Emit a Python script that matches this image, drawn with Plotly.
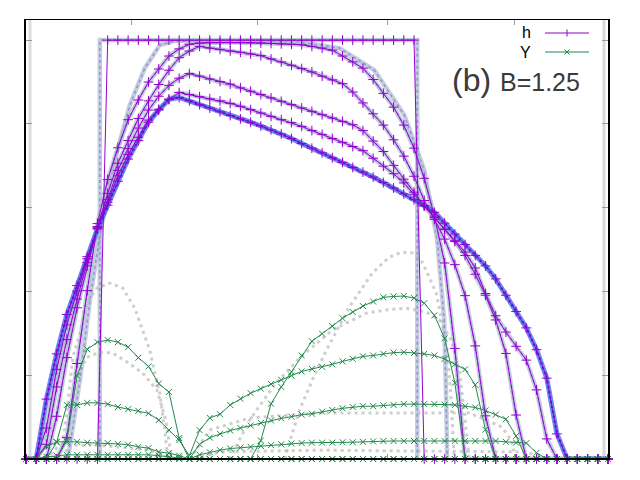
import plotly.graph_objects as go

# grid index (solution sampled on a uniform grid, 58 nodes)
x_grid = list(range(58))

# ---- h profiles (overlay, purple) ----
h_P0 = [0,0,0,0,0,0,0,0] + [1.0]*31 + [0]*19
h_C0 = [0,0,0,0,0.051,0.228,0.402,0.562,0.667,0.743,0.810,0.857,0.900,0.931,0.962,0.979,0.990,
        0.993,0.994,0.994,0.994,0.994,0.994,0.993,0.992,0.991,0.990,0.989,0.985,0.981,0.976,0.962,
        0.948,0.933,0.906,0.873,0.840,0.797,0.742,0.670,0.580,0.468,0.264,
        0,0,0,0,0,0,0,0,0,0,0,0,0,0,0]
h_C1 = [0,0,0,0.102,0.242,0.361,0.461,0.555,0.634,0.706,0.760,0.813,0.855,0.894,0.928,0.958,0.974,
        0.985,0.981,0.978,0.974,0.971,0.967,0.963,0.955,0.948,0.940,0.932,0.924,0.914,0.905,0.896,
        0.876,0.850,0.824,0.797,0.762,0.723,0.675,0.617,0.572,0.525,0.464,0.390,0.270,0.103,
        0,0,0,0,0,0,0,0,0,0,0,0]
h_C2 = [0,0,0.035,0.172,0.285,0.382,0.469,0.552,0.620,0.689,0.741,0.790,0.833,0.866,0.892,0.909,0.920,
        0.914,0.907,0.901,0.895,0.886,0.878,0.870,0.862,0.854,0.846,0.838,0.830,0.822,0.814,0.806,
        0.798,0.784,0.759,0.734,0.701,0.668,0.637,0.605,0.576,0.548,0.519,0.486,0.441,0.391,0.332,
        0.252,0.105,0,0,0,0,0,0,0,0,0]
h_C3 = [0,0,0.074,0.214,0.320,0.401,0.478,0.551,0.613,0.676,0.727,0.768,0.809,0.835,0.858,0.875,0.870,
        0.865,0.860,0.855,0.849,0.842,0.834,0.826,0.818,0.810,0.803,0.794,0.784,0.775,0.765,0.756,
        0.746,0.736,0.718,0.699,0.681,0.659,0.632,0.604,0.577,0.549,0.522,0.494,0.456,0.395,0.342,
        0.303,0.269,0.236,0.165,0.048,0,0,0,0,0,0]
h_C4 = [0,0,0.143,0.251,0.345,0.414,0.483,0.549,0.606,0.663,0.716,0.760,0.804,0.833,0.859,0.863,0.855,
        0.846,0.838,0.829,0.820,0.812,0.804,0.795,0.786,0.776,0.765,0.753,0.742,0.731,0.719,0.708,
        0.696,0.685,0.673,0.660,0.647,0.633,0.619,0.605,0.589,0.563,0.537,0.512,0.486,0.461,0.430,
        0.391,0.352,0.313,0.261,0.193,0.060,0,0,0,0,0]

# ---- Y profiles (overlay, green) ----
Y_P0 = [0]*58
Y_C0 = [0,0,0,0,0.045,0.199,0.262,0.279,0.284,0.279,0.267,0.242,0.221,0.180,0.160,0.050,0,
        0,0,0,0,0,0,0.044,0.132,0.172,0.208,0.247,0.281,0.299,0.317,0.336,0.351,0.365,0.376,
        0.386,0.388,0.389,0.384,0.372,0.343,0.288,0.182,0,0,0,0,0,0,0,0,0,0,0,0,0,0,0]
Y_C1 = [0,0,0,0.040,0.129,0.129,0.134,0.134,0.131,0.124,0.119,0.115,0.109,0.093,0.069,0.045,0.008,
        0.069,0.098,0.107,0.129,0.144,0.157,0.168,0.179,0.189,0.199,0.209,0.215,0.220,0.226,0.233,
        0.239,0.245,0.247,0.251,0.254,0.255,0.253,0.251,0.247,0.239,0.226,0.214,0.177,0.070,
        0,0,0,0,0,0,0,0,0,0,0,0]
Y_C2 = [0,0,0.030,0.041,0.041,0.041,0.039,0.038,0.038,0.036,0.034,0.029,0.026,0.017,0.014,0.008,0,
        0.035,0.051,0.060,0.068,0.074,0.080,0.086,0.092,0.097,0.101,0.106,0.108,0.113,0.117,0.121,
        0.124,0.126,0.126,0.128,0.129,0.131,0.131,0.131,0.131,0.130,0.129,0.126,0.123,0.116,0.106,
        0.095,0.055,0,0,0,0,0,0,0,0,0]
Y_C3 = [0,0,0.005,0.008,0.010,0.010,0.010,0.010,0.010,0.010,0.010,0.010,0.010,0.008,0.005,0.003,0,
        0.010,0.016,0.021,0.025,0.027,0.029,0.031,0.033,0.035,0.037,0.038,0.039,0.039,0.039,0.040,
        0.040,0.041,0.042,0.043,0.043,0.043,0.043,0.043,0.043,0.043,0.043,0.043,0.043,0.043,0.043,
        0.041,0.039,0.038,0.015,0,0,0,0,0,0,0]
Y_C4 = [0]*58

# ---- background (blurred reference figure) curves ----
bg_step_x = [7.23, 7.23, 38.32, 38.32]
bg_step_h = [0, 1, 1, 0]
bg_B1_x = [4.11,5.28,6.26,7.23,8.70,10.17,11.63,13.10,14.57,26.78,30.69,34.12,37.05,39.00,40.27,40.96,41.15,41.25]
bg_B1_h = [0,0.189,0.379,0.535,0.714,0.845,0.933,0.988,0.998,0.995,0.981,0.928,0.821,0.690,0.523,0.332,0.141,0]

bgY_a_x = [3.32,3.91,4.59,5.28,5.96,6.94,8.21,9.48,10.65,11.44,12.12,12.61,13.10,13.59,13.88]
bgY_a_y = [0,0.093,0.243,0.301,0.372,0.408,0.420,0.408,0.360,0.308,0.260,0.205,0.158,0.069,0]
bgY_b_x = [3.81,4.50,5.08,5.96,7.23,8.50,9.87,11.44,12.81,13.69,14.27]
bgY_b_y = [0,0.117,0.200,0.243,0.255,0.253,0.232,0.205,0.165,0.093,0]
bgY_c_x = [25.32,26.78,28.25,29.42,31.67,33.92,35.58,36.85,37.83,38.71,39.49,40.18,40.76,41.25,41.64,41.94]
bgY_c_y = [0,0.117,0.200,0.260,0.363,0.444,0.482,0.494,0.492,0.475,0.434,0.396,0.325,0.260,0.141,0]
bgY_d_x = [19.94,21.90,24.34,26.78,30.01,33.33,35.29,37.24,39.20,40.47,41.64,42.42,42.91,43.40]
bgY_d_y = [0,0.093,0.177,0.241,0.308,0.348,0.356,0.360,0.351,0.332,0.284,0.212,0.117,0]
bgY_e_x = [16.03,17.99,21.90,28.74,41.74,43.40,45.06,46.63,47.51,48.00]
bgY_e_y = [0,0.069,0.098,0.110,0.110,0.110,0.093,0.076,0.045,0]
bgY_f_x = [16.52,18.96,28.74,48.29,50.24,50.73]
bgY_f_y = [0,0.017,0.021,0.017,0.010,0]
bgY_g_x = [1.86,3.32,7.23,12.12,14.08]
bgY_g_y = [0,0.033,0.033,0.021,0]

x_ticks = [10.36, 22.68, 35.39, 47.8]
y_ticks = [0.2, 0.4, 0.6, 0.8, 1.0]

PURPLE = '#9400D3'
GREEN = '#23884c'

fig = go.Figure()

# background dotted Y curves
for bx, by in [(bgY_a_x, bgY_a_y), (bgY_b_x, bgY_b_y), (bgY_c_x, bgY_c_y), (bgY_d_x, bgY_d_y),
               (bgY_e_x, bgY_e_y), (bgY_f_x, bgY_f_y), (bgY_g_x, bgY_g_y)]:
    fig.add_trace(go.Scatter(x=bx, y=by, mode='lines', cliponaxis=False,
                             line=dict(color='rgba(180,180,180,0.65)', width=3, dash='3px,4px'),
                             hoverinfo='skip'))

# background thick h bands
bands = [(bg_step_x, bg_step_h), (bg_B1_x, bg_B1_h)] + [(x_grid, c) for c in (h_C0, h_C1, h_C2, h_C3)]
for bx, bh in bands:
    fig.add_trace(go.Scatter(x=bx, y=bh, mode='lines', cliponaxis=False,
                             line=dict(color='rgba(170,186,210,0.7)', width=4.5), hoverinfo='skip'))
    fig.add_trace(go.Scatter(x=bx, y=bh, mode='lines', cliponaxis=False,
                             line=dict(color='rgba(125,90,205,0.55)', width=1.5, dash='3px,3px'),
                             hoverinfo='skip'))
fig.add_trace(go.Scatter(x=x_grid, y=h_C4, mode='lines', cliponaxis=False,
                         line=dict(color='rgba(70,105,240,0.8)', width=5), hoverinfo='skip'))
fig.add_trace(go.Scatter(x=x_grid, y=h_C4, mode='lines', cliponaxis=False,
                         line=dict(color='#1428b4', width=2, dash='2px,3px'), hoverinfo='skip'))

# overlay h curves
for c in (h_P0, h_C0, h_C1, h_C2, h_C3, h_C4):
    fig.add_trace(go.Scatter(x=x_grid, y=c, mode='lines+markers', cliponaxis=False,
                             line=dict(color=PURPLE, width=1),
                             marker=dict(symbol='cross-thin', size=7, line=dict(color=PURPLE, width=1)),
                             name='h'))
# overlay Y curves
for c in (Y_P0, Y_C0, Y_C1, Y_C2, Y_C3, Y_C4):
    fig.add_trace(go.Scatter(x=x_grid, y=c, mode='lines+markers', cliponaxis=False,
                             line=dict(color=GREEN, width=1),
                             marker=dict(symbol='x-thin', size=6, line=dict(color=GREEN, width=1)),
                             name='Y'))

# page pixel -> paper coordinate helpers (plot area spans x 26..608, y 20..459 on the page)
def px(xp):
    return (xp - 26) / 582.0

def py(yp):
    return (459 - yp) / 439.0

shapes = [
    dict(type='line', xref='paper', yref='paper', x0=px(30), x1=px(30), y0=0, y1=1,
         line=dict(color='rgba(205,205,205,0.7)', width=3), layer='below'),
    dict(type='line', xref='paper', yref='paper', x0=px(604), x1=px(604), y0=0, y1=1,
         line=dict(color='rgba(200,200,200,0.7)', width=3), layer='below'),
    dict(type='line', xref='paper', yref='paper', x0=0, x1=1, y0=0, y1=0,
         line=dict(color='black', width=2)),
    dict(type='line', xref='paper', yref='paper', x0=px(545), x1=px(589), y0=py(33), y1=py(33),
         line=dict(color=PURPLE, width=1)),
    dict(type='line', xref='paper', yref='paper', x0=px(567), x1=px(567), y0=py(29.5), y1=py(36.5),
         line=dict(color=PURPLE, width=1)),
    dict(type='line', xref='paper', yref='paper', x0=px(545), x1=px(589), y0=py(52), y1=py(52),
         line=dict(color=GREEN, width=1)),
    dict(type='line', xref='paper', yref='paper', x0=px(564.5), x1=px(569.5), y0=py(49.5), y1=py(54.5),
         line=dict(color=GREEN, width=1)),
    dict(type='line', xref='paper', yref='paper', x0=px(564.5), x1=px(569.5), y0=py(54.5), y1=py(49.5),
         line=dict(color=GREEN, width=1)),
]

annotations = [
    dict(text='h', xref='paper', yref='paper', x=px(533), y=py(33), xanchor='right', yanchor='middle',
         showarrow=False, font=dict(family='Liberation Sans, Arial', size=16, color='black')),
    dict(text='Y', xref='paper', yref='paper', x=px(533), y=py(52), xanchor='right', yanchor='middle',
         showarrow=False, font=dict(family='Liberation Sans, Arial', size=16, color='black')),
    dict(text='(b)', xref='paper', yref='paper', x=px(450), y=py(80), xanchor='left', yanchor='middle',
         showarrow=False, font=dict(family='Liberation Sans, Arial', size=32, color='#3a3a3a')),
    dict(text='B=1.25', xref='paper', yref='paper', x=px(498), y=py(82), xanchor='left', yanchor='middle',
         showarrow=False, font=dict(family='Liberation Sans, Arial', size=25, color='#3a3a3a')),
]

# the page body has an 8 px margin, so the figure is 8 px smaller and margins compensate
fig.update_layout(
    width=632, height=472,
    margin=dict(l=18, r=32, t=12, b=21),
    plot_bgcolor='white', paper_bgcolor='white',
    showlegend=False,
    shapes=shapes, annotations=annotations,
    xaxis=dict(range=[0, 57], showgrid=False, zeroline=False, showline=True, linecolor='black',
               linewidth=1, mirror='allticks', ticks='inside', ticklen=5, tickcolor='#999999',
               tickvals=x_ticks, showticklabels=False),
    yaxis=dict(range=[0, 1.048], showgrid=False, zeroline=False, showline=True, linecolor='black',
               linewidth=1.5, mirror='allticks', ticks='inside', ticklen=6, tickcolor='#999999',
               tickvals=y_ticks, showticklabels=False),
)

fig.write_html('out.html')
